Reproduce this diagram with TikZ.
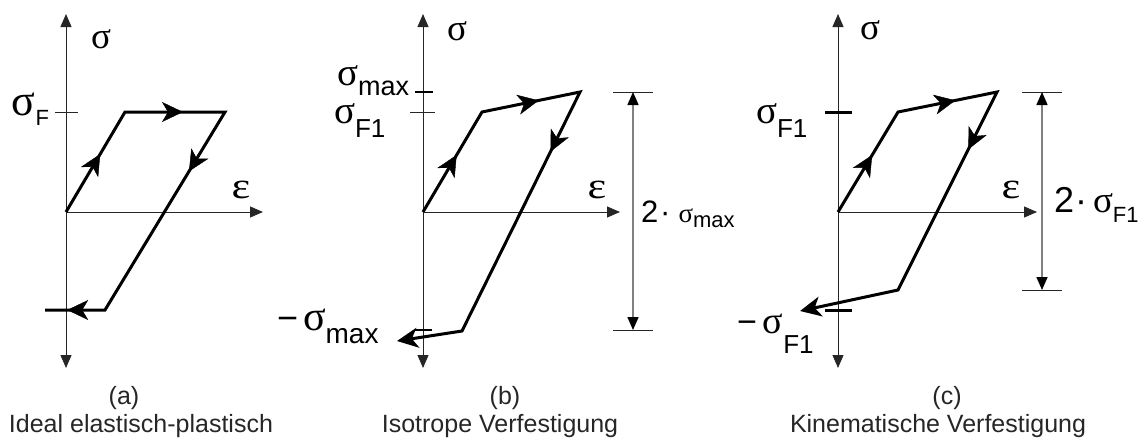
\documentclass[tikz,border=0pt]{standalone}
\usepackage{fontspec}
\setmainfont{Liberation Sans}
\newfontfamily\grk{Liberation Serif}
\usetikzlibrary{arrows.meta,decorations.markings}
\newcommand{\fs}[1]{\fontsize{#1}{#1}\selectfont}
\newcommand{\sg}[1]{{\grk\fs{#1}σ}}
\newcommand{\ep}[1]{{\grk\fs{#1}\scalebox{1.2}[1]{ε}}}
\tikzset{
  axtip/.tip={Triangle[length=13pt,width=11pt]},
  looptip/.tip={Stealth[length=21pt,width=20pt,inset=6pt]},
  dimtip/.tip={Triangle[length=13pt,width=11pt,color=black]},
}
\tikzset{
  x=1pt, y=-1pt,
  axisline/.style={line width=1pt, draw=black!85},
  loopline/.style={line width=3pt, line join=miter, draw=black},
  midarr/.style={postaction={decorate},decoration={markings,
     mark=at position #1 with {\arrow{Stealth[length=21pt,width=20pt,inset=6pt]}}}},
  tickthin/.style={line width=1pt, draw=black!85},
  tickmid/.style={line width=2pt, draw=black},
  tickthick/.style={line width=3pt, draw=black},
  extline/.style={line width=0.9pt, draw=black!85},
  dimline/.style={line width=1.5pt, draw=black!50, dimtip-dimtip},
  lbl/.style={inner sep=0pt, outer sep=0pt, anchor=base west},
  axlbl/.style={inner sep=0pt, outer sep=0pt, anchor=center},
  captext/.style={inner sep=0pt, anchor=base, text=black!85, font=\fs{25}},
}
\begin{document}
\begin{tikzpicture}
\useasboundingbox (0,0) rectangle (1146,439);

% ================= (a) =================
\coordinate (Oa) at (66,212);
\coordinate (aTop) at (66,14);
\coordinate (aBot) at (66,368);
\coordinate (aRight) at (263,212);
\coordinate (a1) at (125,112);
\coordinate (a2) at (225,112);
\coordinate (a3) at (105,310);
\coordinate (a4) at (45,310);
\coordinate (aT1) at (55,112);
\coordinate (aT2) at (78,112);
\draw[axisline, axtip-axtip] (aBot) -- (aTop);
\draw[axisline, -axtip] (Oa) -- (aRight);
\draw[tickthin] (aT1) -- (aT2);
\draw[loopline] (Oa) -- (a1) -- (a2) -- (a3) -- (a4);
\path[midarr=0.58] (Oa) -- (a1);
\path[midarr=0.58] (a1) -- (a2);
\path[midarr=0.30] (a2) -- (a3);
\path[midarr=0.63] (a3) -- (a4);
\node[axlbl] (sigA) at (101,39) {\sg{37}};
\node[axlbl] (epsA) at (241,190) {\ep{37}};
\node[lbl] (sFa) at (12,115) {\sg{44}\raisebox{-10pt}{\fs{22}F}};
\node[captext] (capa) at (124,404) {(a)};
\node[captext] (texta) at (141,432) {Ideal elastisch-plastisch};

% ================= (b) =================
\coordinate (Ob) at (423,212);
\coordinate (bTop) at (423,14);
\coordinate (bBot) at (423,368);
\coordinate (bRight) at (620,212);
\coordinate (b1) at (482,112);
\coordinate (b2) at (580,92);
\coordinate (b3) at (462,331);
\coordinate (b4) at (397,341);
\draw[axisline, axtip-axtip] (bBot) -- (bTop);
\draw[axisline, -axtip] (Ob) -- (bRight);
\draw[tickmid] (415,92) coordinate (bTm1) -- (433,92) coordinate (bTm2);
\draw[tickthin] (410,112) coordinate (bTf1) -- (435,112) coordinate (bTf2);
\draw[tickmid] (415,330) coordinate (bTn1) -- (432,330) coordinate (bTn2);
\draw[loopline, -looptip] (Ob) -- (b1) -- (b2) -- (b3) -- (b4);
\path[midarr=0.57] (Ob) -- (b1);
\path[midarr=0.58] (b1) -- (b2);
\path[midarr=0.25] (b2) -- (b3);
% dimension
\coordinate (bd1) at (633,92);
\coordinate (bd2) at (633,330);
\draw[extline] (613,92) coordinate (be1) -- (653,92) coordinate (be2);
\draw[extline] (613,330) coordinate (be3) -- (653,330) coordinate (be4);
\draw[dimline] (bd1) -- (bd2);
\node[axlbl] (sigB) at (457,31) {\sg{37}};
\node[axlbl] (epsB) at (597,190) {\ep{37}};
\node[lbl] (sMax) at (337,85) {\sg{39}\raisebox{-10pt}{\fs{27}max}};
\node[lbl] (sF1b) at (334,123) {\sg{39}\raisebox{-14pt}{\fs{26}F1}};
\node[lbl] (nsMax) at (277,330) {\fs{36}−\hspace{5pt}\sg{42}\raisebox{-13pt}{\fs{28}max}};
\node[lbl] (dimB) at (641,222) {\fs{31}2\hspace{2pt}·\hspace{8pt}\sg{27}\raisebox{-5pt}{\fs{22}max}};
\node[captext] (capb) at (505,404) {(b)};
\node[captext] (textb) at (500,432) {Isotrope Verfestigung};

% ================= (c) =================
\coordinate (Oc) at (838,212);
\coordinate (cTop) at (838,14);
\coordinate (cBot) at (838,368);
\coordinate (cRight) at (1037,212);
\coordinate (c1) at (898,112);
\coordinate (c2) at (997,92);
\coordinate (c3) at (898,290);
\coordinate (c4) at (800,311);
\draw[axisline, axtip-axtip] (cBot) -- (cTop);
\draw[axisline, -axtip] (Oc) -- (cRight);
\draw[tickthick] (825,112) coordinate (cT1) -- (852,112) coordinate (cT2);
\draw[tickthick] (825,310) coordinate (cT3) -- (852,310) coordinate (cT4);
\draw[loopline, -looptip] (Oc) -- (c1) -- (c2) -- (c3) -- (c4);
\path[midarr=0.57] (Oc) -- (c1);
\path[midarr=0.58] (c1) -- (c2);
\path[midarr=0.29] (c2) -- (c3);
% dimension
\coordinate (cd1) at (1042,92);
\coordinate (cd2) at (1042,290);
\draw[extline] (1022,92) coordinate (ce1) -- (1062,92) coordinate (ce2);
\draw[extline] (1022,290) coordinate (ce3) -- (1062,290) coordinate (ce4);
\draw[dimline] (cd1) -- (cd2);
\node[axlbl] (sigC) at (870,30) {\sg{37}};
\node[axlbl] (epsC) at (1011,190) {\ep{37}};
\node[lbl] (sF1c) at (756,123) {\sg{39}\raisebox{-14pt}{\fs{26}F1}};
\node[lbl] (nsF1) at (737,333) {\fs{34}−\hspace{6pt}\sg{38}\raisebox{-20pt}{\fs{26}F1}};
\node[lbl] (dimC) at (1054,212) {\fs{36}2\hspace{1pt}·\hspace{6pt}\sg{37}\raisebox{-10pt}{\fs{22}F1}};
\node[captext] (capc) at (947,404) {(c)};
\node[captext] (textc) at (938,432) {Kinematische Verfestigung};
\end{tikzpicture}
\end{document}
